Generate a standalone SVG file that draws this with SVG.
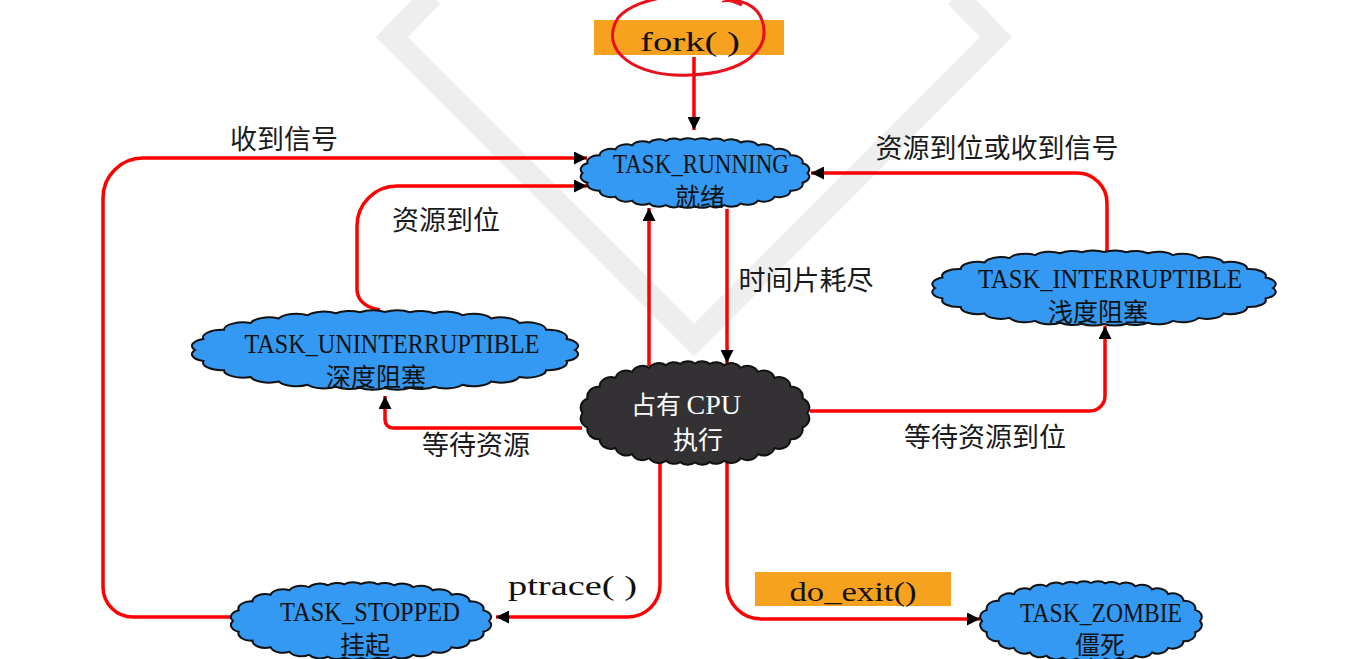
<svg xmlns="http://www.w3.org/2000/svg" xmlns:xlink="http://www.w3.org/1999/xlink" width="1367" height="659" viewBox="0 0 1367 659">
<style>
.wm{fill:none;stroke:#eeeeee;stroke-width:23;stroke-linejoin:miter}
.blue{fill:#3399f3;stroke:#111;stroke-width:2}
.dark{fill:#333133;stroke:#111;stroke-width:2}
.box{fill:#f7a21e}
.conn{fill:none;stroke:#f00;stroke-width:3.5;stroke-linejoin:round}
.lat{font-family:"Liberation Serif",serif;font-size:27px;fill:#111}
.cn{font-family:"Noto Sans CJK SC","Liberation Serif",sans-serif;font-size:25px;fill:#111}
.w{fill:#fff}
.lbl{font-family:"Noto Sans CJK SC",sans-serif;font-size:27px;fill:#1a1a1a}
</style>
<defs>
<path id="cloud" vector-effect="non-scaling-stroke" d="M100,0 A10,10 0 0 1 95.6,14.6 A10,10 0 0 1 84.8,26.5 A10,10 0 0 1 70.7,35.4 A10,10 0 0 1 55.9,41.5 A10,10 0 0 1 40.7,45.7 A10,10 0 0 1 25.9,48.3 A10,10 0 0 1 13.1,49.6 A10,10 0 0 1 0,50 A10,10 0 0 1 -13.1,49.6 A10,10 0 0 1 -25.9,48.3 A10,10 0 0 1 -40.7,45.7 A10,10 0 0 1 -55.9,41.5 A10,10 0 0 1 -70.7,35.4 A10,10 0 0 1 -84.8,26.5 A10,10 0 0 1 -95.6,14.6 A10,10 0 0 1 -100,0 A10,10 0 0 1 -95.6,-14.6 A10,10 0 0 1 -84.8,-26.5 A10,10 0 0 1 -70.7,-35.4 A10,10 0 0 1 -55.9,-41.5 A10,10 0 0 1 -40.7,-45.7 A10,10 0 0 1 -25.9,-48.3 A10,10 0 0 1 -13.1,-49.6 A10,10 0 0 1 0,-50 A10,10 0 0 1 13.1,-49.6 A10,10 0 0 1 25.9,-48.3 A10,10 0 0 1 40.7,-45.7 A10,10 0 0 1 55.9,-41.5 A10,10 0 0 1 70.7,-35.4 A10,10 0 0 1 84.8,-26.5 A10,10 0 0 1 95.6,-14.6 A10,10 0 0 1 100,0 Z"/>
<marker id="arr" viewBox="0 0 12 12" refX="12" refY="6" markerWidth="13" markerHeight="13" markerUnits="userSpaceOnUse" orient="auto">
<path d="M0,0 L12,6 L0,12 Z" fill="#000"/>
</marker>
</defs>

<rect width="1367" height="659" fill="#fff"/>
<polyline class="wm" points="432,-4 392,37 694,340 996,37 956,-4"/>

<g id="connectors">
<path class="conn" d="M694,57 V130" marker-end="url(#arr)"/>
<path class="conn" d="M232,617 H133 A30,30 0 0 1 103,587 V198 A40,40 0 0 1 143,158 H587" marker-end="url(#arr)"/>
<path class="conn" d="M380,310 Q358,306 357,290 V226 A40,40 0 0 1 397,186 H587" marker-end="url(#arr)"/>
<path class="conn" d="M1107,252 V203 A30,30 0 0 0 1077,173 H811" marker-end="url(#arr)"/>
<path class="conn" d="M727,209 V363" marker-end="url(#arr)"/>
<path class="conn" d="M649,366 V208" marker-end="url(#arr)"/>
<path class="conn" d="M582,428 H393 A8,8 0 0 1 385,420 V396" marker-end="url(#arr)"/>
<path class="conn" d="M810,411 H1090 A15,15 0 0 0 1105,396 V326" marker-end="url(#arr)"/>
<path class="conn" d="M660,460 V585 A32,32 0 0 1 628,617 H496" marker-end="url(#arr)"/>
<path class="conn" d="M727,462 V585 A34,34 0 0 0 761,619 H980" marker-end="url(#arr)"/>
<text class="lbl" x="284" y="149" text-anchor="middle">收到信号</text>
<text class="lbl" x="446" y="230" text-anchor="middle">资源到位</text>
<text class="lbl" x="997" y="158" text-anchor="middle">资源到位或收到信号</text>
<text class="lbl" x="806" y="290" text-anchor="middle">时间片耗尽</text>
<text class="lbl" x="476" y="455" text-anchor="middle">等待资源</text>
<text class="lbl" x="985" y="447" text-anchor="middle">等待资源到位</text>
<text class="lat" x="508" y="595" textLength="129" lengthAdjust="spacingAndGlyphs">ptrace( )</text>
</g>

<g id="fork">
<rect class="box" x="594" y="20" width="190" height="35"/>
<text class="lat" x="690" y="51" text-anchor="middle" textLength="100" lengthAdjust="spacingAndGlyphs">fork( )</text>
<path d="M742,5 C705,-12 638,-6 618,18 C598,50 635,78 690,75 C744,73 772,50 762,20 C757,6 742,-2 722,1" fill="none" stroke="#e8101a" stroke-width="3"/>
</g>

<g id="do_exit">
<rect class="box" x="755" y="572" width="196" height="34"/>
<text class="lat" x="853" y="601" text-anchor="middle" textLength="127" lengthAdjust="spacingAndGlyphs">do_exit()</text>
</g>

<g id="running">
<use href="#cloud" class="blue" transform="translate(695,173) scale(1.125,0.667)"/>
<text class="lat" x="701" y="173" text-anchor="middle" textLength="176" lengthAdjust="spacingAndGlyphs">TASK_RUNNING</text>
<text class="cn" x="700" y="206" text-anchor="middle">就绪</text>
</g>

<g id="uninterruptible">
<use href="#cloud" class="blue" transform="translate(385,350) scale(1.9,0.76)"/>
<text class="lat" x="392" y="353" text-anchor="middle" textLength="295" lengthAdjust="spacingAndGlyphs">TASK_UNINTERRUPTIBLE</text>
<text class="cn" x="376" y="386" text-anchor="middle">深度阻塞</text>
</g>

<g id="interruptible">
<use href="#cloud" class="blue" transform="translate(1104,288) scale(1.69,0.72)"/>
<text class="lat" x="1110" y="288" text-anchor="middle" textLength="264" lengthAdjust="spacingAndGlyphs">TASK_INTERRUPTIBLE</text>
<text class="cn" x="1098" y="321" text-anchor="middle">浅度阻塞</text>
</g>

<g id="cpu">
<use href="#cloud" class="dark" transform="translate(695,413) scale(1.125,0.99)"/>
<text class="cn w" x="686" y="414" text-anchor="middle" font-size="27">占有 <tspan font-family="Liberation Serif, serif" font-size="28">CPU</tspan></text>
<text class="cn w" x="698" y="449" text-anchor="middle" font-size="27">执行</text>
</g>

<g id="stopped">
<use href="#cloud" class="blue" transform="translate(361,621) scale(1.28,0.74)"/>
<text class="lat" x="370" y="621" text-anchor="middle" textLength="180" lengthAdjust="spacingAndGlyphs">TASK_STOPPED</text>
<text class="cn" x="365" y="654" text-anchor="middle">挂起</text>
</g>

<g id="zombie">
<use href="#cloud" class="blue" transform="translate(1091,621) scale(1.09,0.76)"/>
<text class="lat" x="1101" y="622" text-anchor="middle" textLength="162" lengthAdjust="spacingAndGlyphs">TASK_ZOMBIE</text>
<text class="cn" x="1100" y="654" text-anchor="middle">僵死</text>
</g>
</svg>
